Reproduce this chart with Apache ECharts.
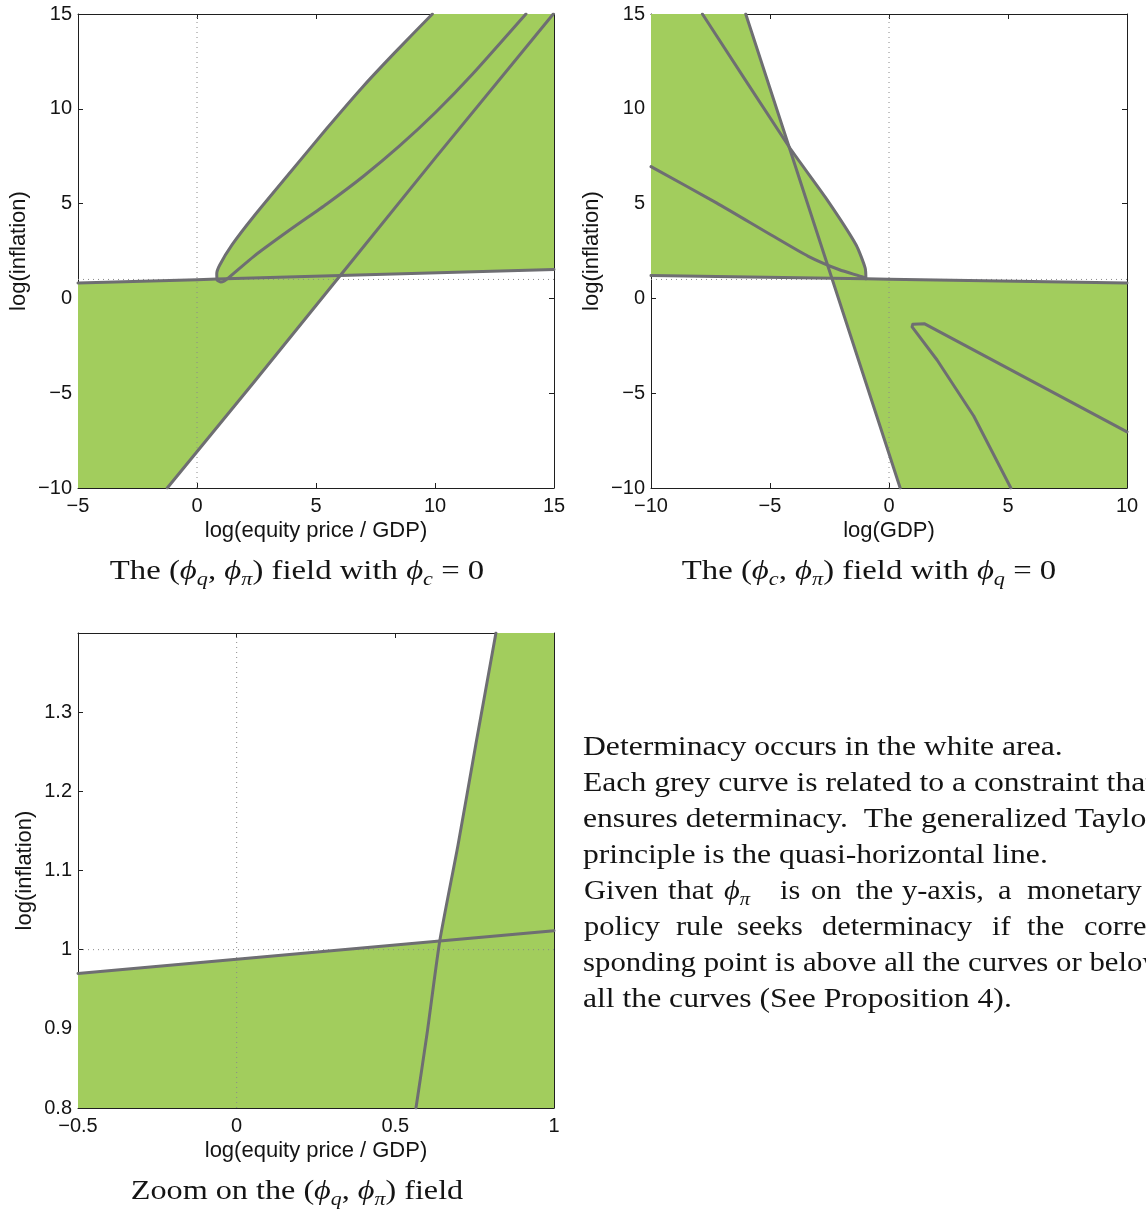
<!DOCTYPE html>
<html><head><meta charset="utf-8">
<script src="https://cdn.jsdelivr.net/npm/echarts@6/dist/echarts.min.js"></script>
<style>html,body{margin:0;padding:0;background:#fff;overflow:hidden}#c{width:1146px;height:1211px}</style>
</head><body><div id="c"></div>
<script>
// ---------------- DATA ----------------
// Panel 1: (phi_q, phi_pi) field with phi_c = 0
const qXRange = [-5, 15];
const qYRange = [-10, 15];
const qTaylor = [[-5, 0.81], [0, 0.99], [0.84, 1.02], [6.02, 1.21], [15, 1.53]];
const qDiagonal = [[-1.25, -10], [2.39, -4.42], [6.02, 1.21], [10.04, 7.45], [14.97, 15]];
const qLoop = [[9.89, 15], [8.3, 12.95], [6.98, 11.18], [5.45, 8.96], [3.92, 6.65], [2.39, 4.33],
  [1.47, 2.82], [0.95, 1.75], [0.83, 1.3], [0.85, 0.97], [1.0, 0.86], [1.15, 0.92], [1.32, 1.08],
  [2.39, 2.22], [3.92, 3.63], [5.45, 4.98], [6.98, 6.43], [8.51, 8.04], [10.04, 9.83], [11.57, 11.82], [13.82, 15]];

// Panel 2: (phi_c, phi_pi) field with phi_q = 0
const cXRange = [-10, 10];
const cYRange = [-10, 15];
const cTaylor = [[-10, 1.21], [-2.40, 1.06], [-0.97, 1.03], [0, 1.01], [10, 0.81]];
const cSteep = [[-6.02, 15], [-4.2, 8.0], [-2.40, 1.06], [0.47, -10]];
const cLoop = [[-7.84, 15], [-4.2, 8.0], [-2.62, 5.24], [-1.38, 2.82], [-1.0, 1.6], [-0.97, 1.03],
  [-1.08, 1.12], [-2.08, 1.51], [-3.39, 2.22], [-4.93, 3.33], [-7.25, 5.04], [-10, 6.95]];
const cTip = [[10, -7.04], [1.5, -1.34], [1.0, -1.36], [0.97, -1.5],
  [2.02, -3.25], [3.56, -6.2], [5.12, -10]];

// Panel 3: zoom on the (phi_q, phi_pi) field
const zXRange = [-0.5, 1];
const zYRange = [0.8, 1.4];
const zTaylor = [[-0.5, 0.970], [0, 0.988], [0.64, 1.011], [1, 1.024]];
const zSteep = [[0.565, 0.8], [0.60, 0.894], [0.64, 1.011], [0.697, 1.131], [0.754, 1.26], [0.817, 1.4]];

// reference (dotted) lines
const refX = 0;
const refY = 1;

// tick intervals
const qXInterval = 5, qYInterval = 5, cXInterval = 5, cYInterval = 5, zXInterval = 0.5, zYInterval = 0.1;

// texts
const xNameQ = 'log(equity price / GDP)';
const xNameC = 'log(GDP)';
const yName = 'log(inflation)';

// ---------------- STYLE ----------------
const GREEN = '#A2CD5D', CURVE = '#6E6E72', AXIS = '#1f1f1f', DOT = '#8a8a8a', TXT = '#141414';
const SANS = 'Liberation Sans, Arial, Helvetica, sans-serif';
const SERIF = 'Liberation Serif, Times New Roman, serif';

const chart = echarts.init(document.getElementById('c'), null, {renderer: 'canvas'});

const grids = [
  {left: 78, top: 14, width: 476, height: 474},
  {left: 651, top: 14, width: 476, height: 474},
  {left: 78, top: 633, width: 476, height: 475}
];

const minus = v => String(v).replace('-', '\u2212');

function xAxes(gi, range, interval, name, fmt) {
  const base = {
    type: 'value', gridIndex: gi, min: range[0], max: range[1], interval: interval,
    axisLine: {show: true, onZero: false, lineStyle: {color: AXIS, width: 1}},
    axisTick: {show: true, inside: true, length: 5, lineStyle: {color: AXIS, width: 1}},
    splitLine: {show: false}
  };
  return [
    Object.assign({}, base, {position: 'bottom',
      axisLabel: {show: true, margin: 8, color: TXT, fontSize: 20, fontFamily: SANS, formatter: fmt || minus,
        showMinLabel: true, showMaxLabel: true},
      name: name, nameLocation: 'middle', nameGap: 32,
      nameTextStyle: {color: TXT, fontSize: 22, fontFamily: SANS}}),
    Object.assign({}, base, {position: 'top', axisLabel: {show: false}})
  ];
}
function yAxes(gi, range, interval, name, gap, fmt) {
  const base = {
    type: 'value', gridIndex: gi, min: range[0], max: range[1], interval: interval,
    axisLine: {show: true, onZero: false, lineStyle: {color: AXIS, width: 1}},
    axisTick: {show: true, inside: true, length: 5, lineStyle: {color: AXIS, width: 1}},
    splitLine: {show: false}
  };
  return [
    Object.assign({}, base, {position: 'left',
      axisLabel: {show: true, margin: 6, color: TXT, fontSize: 20, fontFamily: SANS, formatter: fmt || minus,
        showMinLabel: true, showMaxLabel: true},
      name: name, nameLocation: 'middle', nameGap: gap,
      nameTextStyle: {color: TXT, fontSize: 22, fontFamily: SANS}}),
    Object.assign({}, base, {position: 'right', axisLabel: {show: false}})
  ];
}

const zYFmt = v => (v > 1.35 ? '' : String(Math.round(v * 10) / 10));
const zXFmt = v => minus(Math.round(v * 10) / 10);

const xAxis = [].concat(
  xAxes(0, qXRange, qXInterval, xNameQ),
  xAxes(1, cXRange, cXInterval, xNameC),
  xAxes(2, zXRange, zXInterval, xNameQ, zXFmt)
);
const yAxis = [].concat(
  yAxes(0, qYRange, qYInterval, yName, 48),
  yAxes(1, cYRange, cYInterval, yName, 48),
  yAxes(2, zYRange, zYInterval, yName, 42, zYFmt)
);

// helpers to build regions from the curve arrays
const rev = a => a.slice().reverse();
function fillSeries(ai, poly) {
  return {
    type: 'custom', xAxisIndex: ai, yAxisIndex: ai, z: 1, clip: true, silent: true,
    data: poly,
    renderItem: function (params, api) {
      if (params.dataIndex !== 0) return null;
      const pts = poly.map(p => api.coord(p));
      return {type: 'polygon', shape: {points: pts, smooth: 0}, style: {fill: GREEN, stroke: GREEN, lineWidth: 0.5}};
    }
  };
}
function curveSeries(ai, data, smooth) {
  return {
    type: 'line', xAxisIndex: ai, yAxisIndex: ai, data: data, z: 4, symbol: 'none', showSymbol: false,
    smooth: smooth || false,
    lineStyle: {color: CURVE, width: 3, join: 'round', cap: 'round'}, clip: true, silent: true
  };
}
function dotSeries(ai, data) {
  return {
    type: 'line', xAxisIndex: ai, yAxisIndex: ai, data: data, z: 2, symbol: 'none', showSymbol: false,
    lineStyle: {color: DOT, width: 1, type: [1, 4]}, clip: true, silent: true
  };
}

// Panel 1 regions
const qPolyBelow = qTaylor.slice(0, 4).concat(rev(qDiagonal.slice(0, 3)), [[qXRange[0], qYRange[0]]]);
const qPolyAbove = qLoop.slice(0, 9).concat(qTaylor.slice(2), [[qXRange[1], qYRange[1]]]);
// Panel 2 regions
const cPolyLeft = [[cXRange[0], cYRange[1]]].concat(cSteep.slice(0, 2), cLoop.slice(2, 6), rev(cTaylor.slice(0, 3)));
const cPolyRight = cTaylor.slice(1).concat([[cXRange[1], cYRange[0]]], rev(cSteep.slice(2)));
// Panel 3 regions
const zPolyBelow = zTaylor.concat([[zXRange[1], zYRange[0]], [zXRange[0], zYRange[0]]]);
const zPolyRight = zSteep.concat([[zXRange[1], zYRange[1]], [zXRange[1], zYRange[0]]]);

const series = [
  fillSeries(0, qPolyBelow), fillSeries(0, qPolyAbove),
  dotSeries(0, [[refX, qYRange[0]], [refX, qYRange[1]]]),
  dotSeries(0, [[qXRange[0], refY], [qXRange[1], refY]]),
  curveSeries(0, qTaylor), curveSeries(0, qDiagonal), curveSeries(0, qLoop, 0.2),

  fillSeries(2, cPolyLeft), fillSeries(2, cPolyRight),
  dotSeries(2, [[refX, cYRange[0]], [refX, cYRange[1]]]),
  dotSeries(2, [[cXRange[0], refY], [cXRange[1], refY]]),
  curveSeries(2, cTaylor), curveSeries(2, cSteep), curveSeries(2, cLoop, 0.2), curveSeries(2, cTip),

  fillSeries(4, zPolyBelow), fillSeries(4, zPolyRight),
  dotSeries(4, [[refX, zYRange[0]], [refX, zYRange[1]]]),
  dotSeries(4, [[zXRange[0], refY], [zXRange[1], refY]]),
  curveSeries(4, zTaylor), curveSeries(4, zSteep, 0.2)
];

// ---------------- TEXT (captions + paragraph) ----------------
const FS = 28;
const rich = {
  n: {fontFamily: SERIF, fontSize: FS, fill: TXT},
  i: {fontFamily: SERIF, fontSize: FS, fontStyle: 'italic', fill: TXT},
  s: {fontFamily: SERIF, fontSize: 19, fontStyle: 'italic', fill: TXT, padding: [16, 0, 0, 0]}
};
function textEl(x, y, text, align, sx) {
  return {type: 'text', x: x, y: y, z: 10, silent: true, scaleX: sx,
    style: {text: text, rich: rich, align: align, verticalAlign: 'middle', fontFamily: SERIF, fontSize: FS, fill: TXT}};
}
const captions = [
  textEl(297, 572, '{n|The (}{i|ϕ}{s|q}{n|, }{i|ϕ}{s|π}{n|) field with }{i|ϕ}{s|c}{n| = 0}', 'center', 1.17),
  textEl(869, 572, '{n|The (}{i|ϕ}{s|c}{n|, }{i|ϕ}{s|π}{n|) field with }{i|ϕ}{s|q}{n| = 0}', 'center', 1.17),
  textEl(297, 1192, '{n|Zoom on the (}{i|ϕ}{s|q}{n|, }{i|ϕ}{s|π}{n|) field}', 'center', 1.15)
];
const TX = 583;
const SX = 1.13;
const paraLines = [
  textEl(TX, 748, '{n|Determinacy occurs in the white area.}', 'left', SX),
  textEl(TX, 784, '{n|Each grey curve is related to a constraint that}', 'left', SX),
  textEl(TX, 820, '{n|ensures determinacy.  The generalized Taylor}', 'left', SX),
  textEl(TX, 856, '{n|principle is the quasi-horizontal line.}', 'left', SX),
  textEl(TX, 964, '{n|sponding point is above all the curves or below}', 'left', 1.1),
  textEl(TX, 1000, '{n|all the curves (See Proposition 4).}', 'left', SX)
];
// justified lines: word start positions
const line5 = [[584, '{n|Given}'], [668, '{n|that}'], [724, '{i|ϕ}{s|π}'], [780, '{n|is}'], [811, '{n|on}'],
  [856, '{n|the}'], [902, '{n|y-axis,}'], [998, '{n|a}'], [1027, '{n|monetary}']];
const line6 = [[584, '{n|policy}'], [676, '{n|rule}'], [737, '{n|seeks}'], [822, '{n|determinacy}'],
  [992, '{n|if}'], [1027, '{n|the}'], [1084, '{n|corre-}']];
line5.forEach(w => paraLines.push(textEl(w[0], 892, w[1], 'left', 1.085)));
line6.forEach(w => paraLines.push(textEl(w[0], 928, w[1], 'left', 1.085)));

chart.setOption({
  animation: false,
  backgroundColor: '#ffffff',
  grid: grids,
  xAxis: xAxis,
  yAxis: yAxis,
  series: series,
  graphic: captions.concat(paraLines)
});
</script>
</body></html>
